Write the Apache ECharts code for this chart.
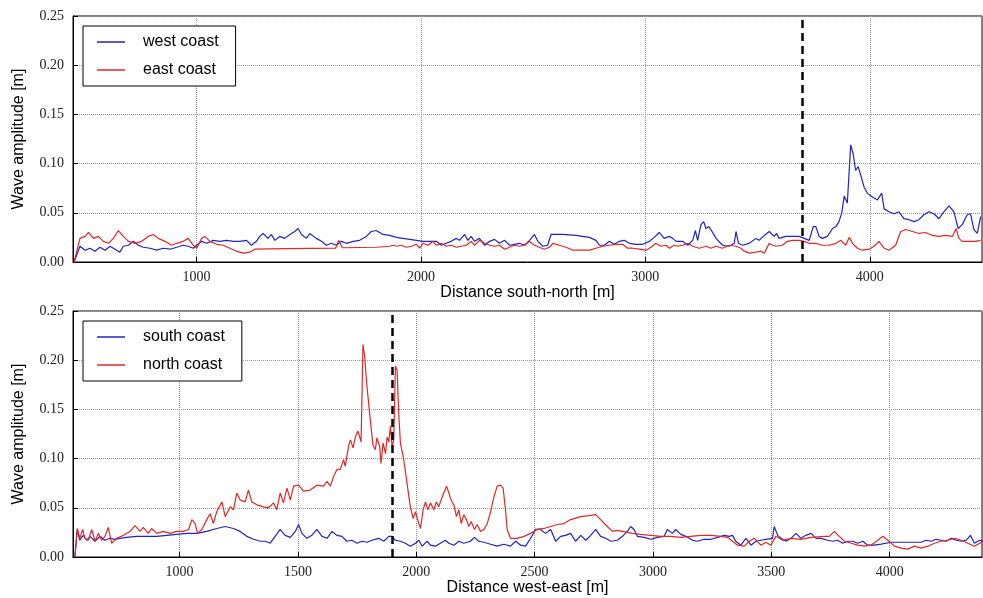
<!DOCTYPE html>
<html>
<head>
<meta charset="utf-8">
<script src="https://cdn.jsdelivr.net/npm/echarts/dist/echarts.min.js"></script>
<style>
    body { margin: 0; background: #fff; }
    #main { width: 983px; height: 598px; }
</style>
</head>
<body>
<div id="main"></div>
<script>
// ticks
var topTicks = [1000, 2000, 3000, 4000];
var bottomTicks = [1000, 1500, 2000, 2500, 3000, 3500, 4000];
var topDashX = 3700;
var bottomDashX = 1900;

// upper panel: distance south-north [m], amplitude [m]
var westCoast = [[455,0],[481,0.016],[504,0.012],[526,0.014],[548,0.011],[570,0.015],[593,0.012],[615,0.016],[637,0.013],[659,0.010],[674,0.016],[697,0.017],[719,0.021],[741,0.017],[763,0.015],[793,0.014],[823,0.012],[852,0.014],[882,0.013],[912,0.015],[941,0.017],[963,0.016],[986,0.014],[1001,0.017],[1023,0.021],[1045,0.019],[1075,0.022],[1104,0.021],[1134,0.022],[1164,0.021],[1193,0.021],[1223,0.022],[1245,0.017],[1267,0.021],[1282,0.026],[1297,0.029],[1319,0.024],[1334,0.028],[1349,0.022],[1371,0.026],[1393,0.024],[1416,0.028],[1438,0.031],[1453,0.034],[1468,0.028],[1490,0.024],[1505,0.029],[1534,0.024],[1557,0.021],[1579,0.017],[1601,0.019],[1623,0.017],[1646,0.021],[1668,0.019],[1698,0.021],[1727,0.022],[1757,0.026],[1779,0.031],[1801,0.032],[1816,0.030],[1831,0.028],[1861,0.027],[1891,0.025],[1920,0.024],[1950,0.023],[1980,0.022],[2009,0.021],[2039,0.021],[2069,0.021],[2091,0.017],[2113,0.019],[2135,0.021],[2158,0.024],[2172,0.022],[2195,0.028],[2209,0.022],[2224,0.026],[2239,0.021],[2261,0.024],[2284,0.017],[2306,0.021],[2328,0.023],[2350,0.019],[2373,0.022],[2395,0.017],[2417,0.018],[2439,0.019],[2462,0.017],[2484,0.022],[2506,0.028],[2521,0.021],[2543,0.016],[2565,0.017],[2580,0.028],[2588,0.029],[2632,0.028],[2691,0.027],[2751,0.025],[2780,0.022],[2795,0.017],[2817,0.017],[2840,0.021],[2862,0.018],[2884,0.021],[2906,0.022],[2929,0.019],[2958,0.018],[2988,0.018],[3018,0.021],[3040,0.025],[3062,0.030],[3084,0.024],[3107,0.026],[3122,0.024],[3137,0.021],[3166,0.021],[3189,0.017],[3211,0.022],[3223,0.032],[3233,0.022],[3248,0.038],[3260,0.041],[3270,0.034],[3282,0.036],[3292,0.033],[3315,0.024],[3344,0.017],[3374,0.016],[3396,0.019],[3404,0.031],[3415,0.019],[3433,0.017],[3463,0.019],[3493,0.024],[3507,0.022],[3530,0.027],[3552,0.031],[3574,0.026],[3585,0.029],[3596,0.024],[3626,0.026],[3656,0.026],[3685,0.026],[3708,0.024],[3730,0.022],[3748,0.036],[3760,0.036],[3774,0.026],[3789,0.024],[3811,0.026],[3834,0.034],[3849,0.036],[3863,0.041],[3875,0.050],[3886,0.067],[3900,0.060],[3915,0.119],[3926,0.110],[3937,0.093],[3948,0.097],[3960,0.088],[3975,0.076],[3989,0.070],[4012,0.066],[4034,0.063],[4053,0.070],[4064,0.054],[4086,0.051],[4108,0.049],[4130,0.051],[4152,0.044],[4175,0.043],[4197,0.041],[4219,0.043],[4241,0.048],[4264,0.051],[4286,0.049],[4308,0.044],[4330,0.051],[4353,0.057],[4375,0.051],[4394,0.034],[4412,0.038],[4434,0.048],[4449,0.049],[4464,0.033],[4479,0.029],[4494,0.046]];

var eastCoast = [[455,0],[481,0.024],[504,0.026],[519,0.030],[541,0.024],[563,0.026],[585,0.021],[608,0.019],[630,0.024],[652,0.032],[674,0.026],[697,0.021],[726,0.019],[756,0.021],[785,0.026],[808,0.028],[830,0.024],[860,0.021],[889,0.017],[912,0.019],[941,0.021],[963,0.024],[986,0.017],[1001,0.014],[1023,0.024],[1038,0.026],[1060,0.021],[1090,0.018],[1119,0.017],[1149,0.014],[1178,0.011],[1208,0.009],[1238,0.010],[1260,0.013],[1400,0.0135],[1620,0.014],[1634,0.022],[1650,0.0145],[1800,0.015],[1861,0.016],[1876,0.017],[1891,0.016],[1913,0.017],[1935,0.015],[1957,0.016],[1980,0.018],[1994,0.014],[2009,0.019],[2032,0.017],[2054,0.021],[2069,0.017],[2091,0.019],[2113,0.016],[2135,0.017],[2158,0.015],[2180,0.016],[2202,0.017],[2224,0.021],[2239,0.017],[2261,0.022],[2284,0.019],[2306,0.017],[2328,0.016],[2350,0.017],[2373,0.013],[2395,0.015],[2417,0.017],[2439,0.016],[2462,0.017],[2484,0.021],[2506,0.017],[2528,0.015],[2550,0.013],[2573,0.015],[2588,0.019],[2617,0.017],[2647,0.015],[2677,0.012],[2721,0.012],[2751,0.012],[2780,0.014],[2810,0.016],[2840,0.017],[2869,0.018],[2899,0.018],[2921,0.014],[2943,0.014],[2973,0.013],[3003,0.012],[3025,0.015],[3047,0.019],[3069,0.016],[3092,0.017],[3107,0.014],[3129,0.017],[3144,0.016],[3166,0.017],[3189,0.019],[3211,0.016],[3240,0.014],[3270,0.016],[3292,0.014],[3315,0.016],[3344,0.014],[3374,0.017],[3404,0.016],[3426,0.014],[3441,0.011],[3463,0.009],[3493,0.010],[3515,0.011],[3530,0.009],[3552,0.019],[3567,0.017],[3582,0.016],[3611,0.017],[3633,0.021],[3656,0.022],[3685,0.022],[3708,0.021],[3730,0.019],[3760,0.019],[3789,0.017],[3819,0.017],[3849,0.019],[3871,0.022],[3893,0.017],[3908,0.025],[3923,0.019],[3945,0.014],[3967,0.012],[3997,0.013],[4019,0.016],[4041,0.021],[4064,0.014],[4086,0.012],[4115,0.017],[4138,0.031],[4160,0.033],[4190,0.031],[4219,0.029],[4249,0.030],[4279,0.027],[4308,0.026],[4338,0.027],[4368,0.026],[4385,0.034],[4397,0.024],[4412,0.021],[4442,0.021],[4471,0.021],[4494,0.022]];

// lower panel: distance west-east [m], amplitude [m]
var southCoast = [[558,0],[568,0.028],[579,0.017],[593,0.022],[608,0.017],[622,0.021],[643,0.016],[664,0.021],[685,0.017],[706,0.019],[727,0.018],[749,0.019],[777,0.020],[819,0.021],[861,0.021],[904,0.021],[946,0.022],[988,0.023],[1031,0.024],[1073,0.024],[1115,0.026],[1157,0.029],[1193,0.031],[1228,0.029],[1256,0.026],[1284,0.021],[1313,0.018],[1341,0.016],[1362,0.016],[1383,0.014],[1404,0.021],[1425,0.028],[1446,0.022],[1468,0.020],[1489,0.026],[1503,0.033],[1517,0.024],[1538,0.019],[1559,0.022],[1580,0.028],[1602,0.021],[1623,0.019],[1644,0.026],[1665,0.022],[1686,0.021],[1707,0.016],[1728,0.017],[1750,0.014],[1771,0.016],[1792,0.015],[1813,0.017],[1841,0.019],[1863,0.016],[1884,0.021],[1898,0.021],[1912,0.017],[1933,0.016],[1954,0.014],[1975,0.011],[1997,0.014],[2011,0.017],[2025,0.011],[2046,0.016],[2060,0.012],[2081,0.011],[2102,0.014],[2123,0.017],[2138,0.014],[2159,0.012],[2180,0.016],[2201,0.014],[2229,0.016],[2246,0.020],[2264,0.016],[2286,0.015],[2314,0.013],[2342,0.011],[2370,0.013],[2398,0.011],[2420,0.016],[2441,0.012],[2462,0.011],[2483,0.019],[2504,0.028],[2525,0.028],[2546,0.024],[2568,0.028],[2589,0.016],[2610,0.021],[2631,0.022],[2652,0.024],[2673,0.016],[2695,0.022],[2716,0.017],[2737,0.022],[2758,0.028],[2779,0.021],[2800,0.019],[2822,0.016],[2850,0.017],[2871,0.021],[2892,0.026],[2906,0.031],[2920,0.028],[2934,0.021],[2963,0.020],[2991,0.018],[3019,0.020],[3047,0.021],[3061,0.028],[3082,0.024],[3096,0.028],[3118,0.023],[3139,0.021],[3167,0.017],[3188,0.016],[3216,0.018],[3245,0.018],[3273,0.020],[3301,0.022],[3322,0.021],[3336,0.022],[3350,0.016],[3371,0.012],[3393,0.019],[3414,0.012],[3435,0.016],[3456,0.017],[3477,0.018],[3505,0.019],[3512,0.031],[3527,0.022],[3541,0.019],[3562,0.016],[3583,0.019],[3604,0.024],[3625,0.019],[3646,0.022],[3668,0.024],[3689,0.019],[3710,0.019],[3738,0.017],[3759,0.016],[3780,0.017],[3801,0.014],[3823,0.016],[3844,0.016],[3865,0.014],[3886,0.016],[3907,0.012],[3935,0.012],[3964,0.013],[4006,0.015],[4048,0.015],[4091,0.015],[4133,0.015],[4154,0.017],[4175,0.016],[4196,0.018],[4217,0.017],[4239,0.016],[4260,0.019],[4281,0.017],[4302,0.016],[4323,0.017],[4341,0.022],[4358,0.014],[4380,0.017],[4399,0.016]];

var northCoast = [[558,0],[568,0.029],[579,0.019],[591,0.028],[600,0.019],[615,0.017],[629,0.028],[643,0.016],[657,0.024],[671,0.017],[685,0.021],[699,0.030],[713,0.014],[734,0.019],[763,0.022],[791,0.026],[812,0.032],[833,0.026],[847,0.030],[868,0.024],[882,0.029],[904,0.024],[932,0.026],[960,0.024],[988,0.026],[1016,0.026],[1038,0.028],[1052,0.038],[1066,0.034],[1076,0.024],[1094,0.028],[1115,0.038],[1129,0.044],[1143,0.034],[1157,0.046],[1179,0.056],[1193,0.041],[1214,0.051],[1228,0.048],[1242,0.065],[1256,0.058],[1277,0.056],[1291,0.068],[1305,0.056],[1327,0.053],[1355,0.051],[1376,0.050],[1397,0.055],[1411,0.048],[1425,0.065],[1439,0.055],[1454,0.070],[1468,0.058],[1482,0.072],[1503,0.073],[1524,0.067],[1552,0.068],[1580,0.073],[1609,0.072],[1623,0.077],[1637,0.072],[1651,0.082],[1665,0.089],[1679,0.089],[1693,0.099],[1700,0.092],[1715,0.114],[1722,0.119],[1733,0.111],[1743,0.122],[1753,0.128],[1761,0.122],[1767,0.117],[1775,0.216],[1782,0.204],[1792,0.173],[1803,0.146],[1817,0.114],[1827,0.109],[1834,0.121],[1846,0.112],[1851,0.095],[1860,0.116],[1870,0.105],[1877,0.122],[1884,0.117],[1891,0.133],[1898,0.112],[1905,0.119],[1912,0.194],[1919,0.190],[1926,0.146],[1933,0.116],[1947,0.099],[1961,0.075],[1975,0.051],[1987,0.039],[1997,0.046],[2006,0.038],[2018,0.029],[2029,0.048],[2039,0.056],[2049,0.048],[2060,0.055],[2074,0.048],[2085,0.056],[2095,0.051],[2105,0.058],[2116,0.065],[2128,0.072],[2138,0.065],[2147,0.058],[2159,0.053],[2170,0.041],[2180,0.048],[2190,0.034],[2201,0.043],[2212,0.038],[2222,0.031],[2232,0.036],[2246,0.028],[2257,0.033],[2272,0.026],[2286,0.028],[2300,0.034],[2314,0.046],[2328,0.061],[2342,0.072],[2356,0.073],[2367,0.070],[2377,0.048],[2384,0.028],[2398,0.019],[2427,0.019],[2455,0.021],[2483,0.024],[2511,0.028],[2539,0.029],[2568,0.031],[2596,0.033],[2624,0.034],[2652,0.038],[2695,0.041],[2730,0.042],[2758,0.043],[2779,0.038],[2807,0.031],[2829,0.026],[2850,0.027],[2871,0.026],[2892,0.025],[2913,0.024],[2948,0.023],[2991,0.022],[3033,0.021],[3075,0.021],[3118,0.020],[3160,0.021],[3202,0.022],[3245,0.022],[3287,0.021],[3315,0.020],[3336,0.016],[3357,0.012],[3386,0.011],[3407,0.016],[3428,0.019],[3456,0.012],[3477,0.015],[3498,0.012],[3519,0.021],[3548,0.017],[3583,0.019],[3625,0.018],[3668,0.020],[3724,0.021],[3745,0.021],[3766,0.026],[3787,0.021],[3809,0.016],[3837,0.014],[3865,0.012],[3893,0.011],[3921,0.012],[3950,0.017],[3971,0.021],[3992,0.017],[4020,0.011],[4048,0.009],[4076,0.008],[4105,0.011],[4133,0.009],[4161,0.011],[4189,0.014],[4217,0.016],[4246,0.017],[4274,0.019],[4302,0.017],[4330,0.014],[4358,0.011],[4380,0.014],[4399,0.016]];

var blue = '#2323c4';
var red = '#e02828';
var serif = 'Liberation Serif';
var sans = 'Liberation Sans';

function init_xAxis(idx, min, max, ticks, name) {
    return {
        type: 'value',
        gridIndex: idx,
        min: min,
        max: max,
        name: name,
        nameLocation: 'middle',
        nameGap: 21,
        nameTextStyle: { fontFamily: sans, fontSize: 16, color: '#000' },
        axisLine: { show: true, onZero: false, lineStyle: { color: '#000', width: 1 } },
        axisTick: { show: true, inside: true, length: 5, customValues: ticks, lineStyle: { color: '#000' } },
        axisLabel: {
            customValues: ticks, fontFamily: serif, fontSize: 14, color: '#222', margin: 8,
            formatter: function (v) { return String(v); }
        },
        splitLine: { show: true, lineStyle: { type: 'dotted', color: '#999', width: 1 } }
    };
}

function init_yAxis(idx) {
    return {
        type: 'value',
        gridIndex: idx,
        min: 0,
        max: 0.25,
        interval: 0.05,
        name: 'Wave amplitude [m]',
        nameLocation: 'middle',
        nameGap: 46,
        nameTextStyle: { fontFamily: sans, fontSize: 16, color: '#000' },
        axisLine: { show: true, lineStyle: { color: '#000', width: 1 } },
        axisTick: { show: true, inside: true, length: 5, lineStyle: { color: '#000' } },
        axisLabel: {
            fontFamily: serif, fontSize: 14, color: '#222', margin: 9,
            formatter: function (v) { return v.toFixed(2); }
        },
        splitLine: { show: true, lineStyle: { type: 'dotted', color: '#999', width: 1 } }
    };
}

function init_legend(top, names) {
    return {
        left: 83,
        top: top,
        orient: 'vertical',
        data: names,
        icon: 'rect',
        itemWidth: 28,
        itemHeight: 1.5,
        itemGap: 10,
        padding: [7, 17, 7, 14],
        borderColor: '#000',
        borderWidth: 1,
        borderRadius: 0,
        backgroundColor: '#fff',
        selectedMode: false,
        textStyle: { fontFamily: sans, fontSize: 16, color: '#000', lineHeight: 18, padding: [0, 0, 0, 13] }
    };
}

function init_line(name, idx, data, color, dashX) {
    var s = {
        type: 'line',
        name: name,
        xAxisIndex: idx,
        yAxisIndex: idx,
        data: data,
        symbol: 'none',
        lineStyle: { width: 1.2, color: color },
        itemStyle: { color: color },
        emphasis: { disabled: true }
    };
    if (dashX !== undefined) {
        s.markLine = {
            silent: true,
            symbol: 'none',
            label: { show: false },
            lineStyle: { color: '#000', width: 2.5, type: [8, 5] },
            data: [{ xAxis: dashX }]
        };
    }
    return s;
}

var myChart = echarts.init(document.getElementById('main'));
var option = {
    animation: false,
    backgroundColor: '#fff',
    grid: [
        { left: 73, top: 16, width: 909, height: 246, show: true, borderColor: '#000', borderWidth: 1, backgroundColor: '#fff' },
        { left: 73, top: 311, width: 909, height: 246, show: true, borderColor: '#000', borderWidth: 1, backgroundColor: '#fff' }
    ],
    xAxis: [
        init_xAxis(0, 450, 4500, topTicks, 'Distance south-north [m]'),
        init_xAxis(1, 550, 4390, bottomTicks, 'Distance west-east [m]')
    ],
    yAxis: [init_yAxis(0), init_yAxis(1)],
    legend: [
        init_legend(26, ['west coast', 'east coast']),
        init_legend(321, ['south coast', 'north coast'])
    ],
    series: [
        init_line('west coast', 0, westCoast, blue),
        init_line('east coast', 0, eastCoast, red, topDashX),
        init_line('south coast', 1, southCoast, blue),
        init_line('north coast', 1, northCoast, red, bottomDashX)
    ]
};
// 为echarts对象加载数据
myChart.setOption(option);
</script>
</body>
</html>
